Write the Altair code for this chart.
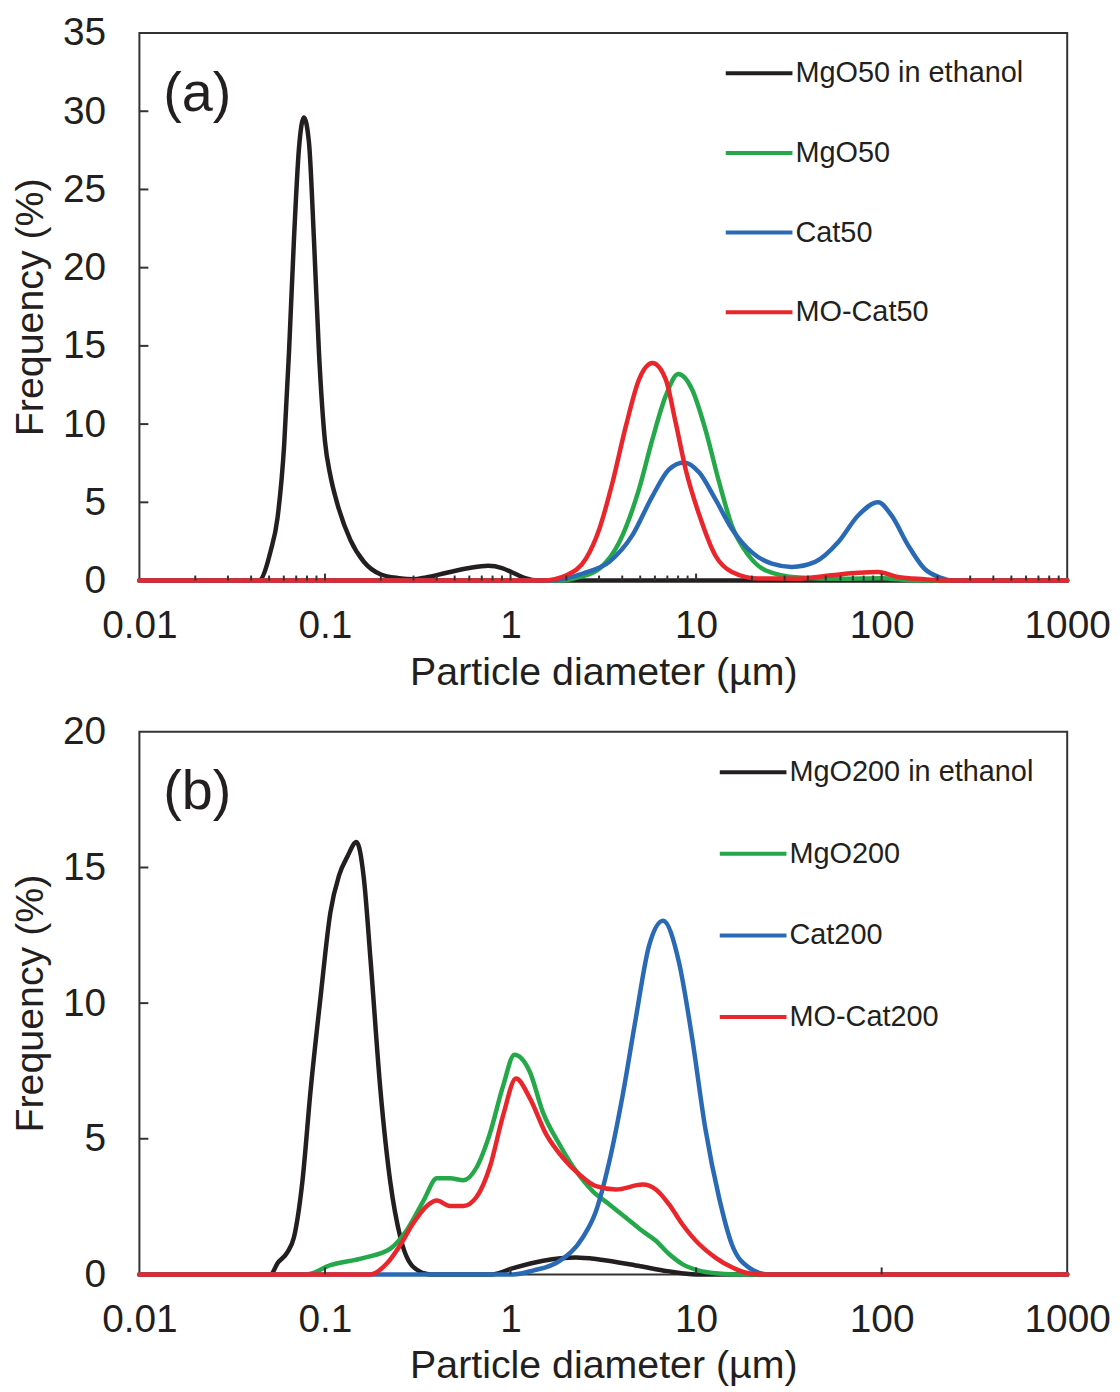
import altair as alt
import pandas as pd

FONT = "Liberation Sans"
TXT = "#231f20"

# ---------------- Panel (a) data ----------------
a_names = ["MgO50 in ethanol", "MgO50", "Cat50", "MO-Cat50"]
a_colors = ["#231f20", "#25a84a", "#2a6ab5", "#e8262b"]

a_black_x = [0.01, 0.044, 0.051, 0.0555, 0.0603, 0.064, 0.068, 0.0724, 0.077, 0.082, 0.0873,
             0.0928, 0.100, 0.107, 0.116, 0.137, 0.162, 0.199, 0.25, 0.30, 0.35, 0.453, 0.6,
             0.757, 0.9, 1.03, 1.2, 1.4, 1000]
a_black_y = [0, 0, 1.9, 4.0, 8.7, 14.6, 21.7, 27.6, 29.6, 28.0, 21.7,
             14.6, 8.9, 6.7, 5.0, 2.6, 1.2, 0.4, 0.15, 0.08, 0.2, 0.5, 0.8,
             0.94, 0.8, 0.5, 0.15, 0, 0]

a_green_x = [0.01, 1.9, 2.3, 3.01, 3.86, 4.93, 5.82, 6.86, 8.02, 9.53, 11.2, 13.3, 15.6,
             19.2, 23.6, 35.6, 60, 100, 150, 1000]
a_green_y = [0, 0, 0.2, 0.76, 2.46, 5.86, 9.04, 11.8, 13.2, 12.2, 9.7, 6.3, 3.5,
             1.6, 0.66, 0.2, 0.12, 0.15, 0, 0]

a_blue_x = [0.01, 1.62, 2.45, 3.41, 4.54, 5.82, 7.15, 8.6, 10.4, 12.7, 15.6, 20, 25.6,
            32.8, 43.8, 58.4, 74.7, 95.7, 113, 139, 170, 209, 240, 1000]
a_blue_y = [0, 0, 0.45, 1.2, 2.9, 5.4, 7.1, 7.55, 6.9, 5.2, 3.3, 1.8, 1.08,
            0.87, 1.19, 2.46, 4.16, 5.0, 4.16, 2.25, 0.76, 0.17, 0, 0]

a_red_x = [0.01, 1.5, 2.0, 2.55, 3.01, 3.55, 4.19, 4.93, 5.82, 6.86, 7.76, 8.79, 10.4,
           12.7, 15.6, 21.7, 35, 53.7, 75, 95.7, 122, 170, 220, 1000]
a_red_y = [0, 0, 0.34, 1.4, 3.3, 6.3, 9.9, 12.86, 13.9, 12.86, 10.1, 7.1, 4.2,
           1.6, 0.55, 0.13, 0.12, 0.34, 0.5, 0.55, 0.23, 0.08, 0, 0]

# ---------------- Panel (b) data ----------------
b_names = ["MgO200 in ethanol", "MgO200", "Cat200", "MO-Cat200"]
b_colors = ["#231f20", "#25a84a", "#2a6ab5", "#e8262b"]

b_black_x = [0.01, 0.051, 0.0555, 0.0628, 0.068, 0.0755, 0.0837, 0.0946, 0.107, 0.119,
             0.132, 0.148, 0.162, 0.176, 0.199, 0.225, 0.255, 0.30, 0.37, 0.8, 1.0, 1.5,
             2.25, 3.0, 5.0, 7.0, 10, 1000]
b_black_y = [0, 0, 0.41, 0.82, 1.36, 3.4, 6.8, 10.2, 13.35, 14.7,
             15.4, 15.94, 14.6, 11.6, 6.8, 3.4, 1.36, 0.27, 0, 0, 0.2, 0.5,
             0.62, 0.55, 0.3, 0.12, 0, 0]

b_green_x = [0.01, 0.08, 0.107, 0.162, 0.225, 0.276, 0.34, 0.401, 0.472, 0.557, 0.657,
             0.773, 0.912, 1.05, 1.27, 1.49, 1.84, 2.26, 2.77, 3.41, 4.19, 5.14, 6.07,
             7.15, 8.43, 10.4, 12.7, 16, 1000]
b_green_y = [0, 0, 0.34, 0.61, 0.95, 1.63, 2.72, 3.54, 3.54, 3.47, 3.95,
             5.18, 6.95, 8.1, 7.47, 6.0, 4.78, 3.8, 3.07, 2.58, 2.09, 1.6, 1.24,
             0.75, 0.38, 0.14, 0.04, 0, 0]

b_blue_x = [0.01, 1.03, 1.32, 1.84, 2.45, 2.89, 3.41, 4.02, 4.73, 5.58, 6.64, 8.09, 9.53,
            11.2, 13.3, 15.6, 19.2, 24.6, 1000]
b_blue_y = [0, 0, 0.14, 0.5, 1.36, 2.34, 4.17, 6.6, 9.43, 12.12, 13.04, 11.5, 8.7,
            5.4, 2.83, 1.1, 0.26, 0, 0]

b_red_x = [0.01, 0.176, 0.216, 0.255, 0.30, 0.354, 0.401, 0.472, 0.557, 0.657, 0.773,
           0.912, 1.07, 1.27, 1.56, 1.92, 2.35, 2.89, 3.70, 5.14, 6.07, 7.15, 8.43,
           10.4, 12.7, 15.6, 19.2, 22, 1000]
b_red_y = [0, 0, 0.41, 1.09, 1.9, 2.52, 2.72, 2.52, 2.52, 2.86, 3.95,
           5.86, 7.22, 6.5, 5.15, 4.29, 3.68, 3.25, 3.13, 3.31, 3.13, 2.58, 1.85,
           1.11, 0.62, 0.26, 0.04, 0, 0]

x_tick_values = [0.01, 0.1, 1, 10, 100, 1000]
x_major_inner = [0.1, 1, 10, 100]
x_minor_inner = [m * 10 ** k for k in range(-2, 3) for m in range(2, 10)]
a_y_ticks = [0, 5, 10, 15, 20, 25, 30, 35]
b_y_ticks = [0, 5, 10, 15, 20]


def panel(names, colors, xs, ys, y_ticks, height, label, minor, legend_x, row_pad,
          label_expr=None):
    width = 932
    xscale = alt.Scale(type="log", domain=[0.01, 1000], nice=False)
    yscale = alt.Scale(domain=[y_ticks[0], y_ticks[-1]], nice=False, zero=True)
    xaxis = alt.Axis(values=x_tick_values, format="~g", title="Particle diameter (µm)",
                     labelFlush=False, labelOverlap=False, labelPadding=26,
                     titlePadding=8, ticks=False, domain=False, grid=False)
    yaxis = alt.Axis(values=y_ticks, title="Frequency (%)", labelPadding=34,
                     titlePadding=12, ticks=False, domain=False, grid=False)
    leg = dict(orient="none", legendX=legend_x, legendY=5, title=None,
               symbolType="stroke", symbolSize=4489, symbolStrokeWidth=4,
               labelFontSize=29, labelFont=FONT, labelColor=TXT,
               labelOffset=1, rowPadding=row_pad, padding=0, labelLimit=500)
    if label_expr:
        leg["labelExpr"] = label_expr
    color = alt.Color("series:N", scale=alt.Scale(domain=names, range=colors),
                      legend=alt.Legend(**leg))
    X = alt.X("x:Q", scale=xscale, axis=xaxis)
    Y = alt.Y("y:Q", scale=yscale, axis=yaxis)
    layers = []
    for name, xv, yv in zip(names, xs, ys):
        df = pd.DataFrame({"x": xv, "y": yv, "series": [name] * len(xv)})
        layers.append(
            alt.Chart(df).mark_line(strokeWidth=4.5, interpolate="monotone",
                                    strokeJoin="round", strokeCap="round").encode(
                x=X, y=Y, color=color)
        )
    yt = pd.DataFrame({"y": y_ticks[1:-1]})
    layers.append(
        alt.Chart(yt).mark_rule(color="#333333", strokeWidth=2).encode(
            y=Y, x=alt.value(0), x2=alt.value(9))
    )
    xt = pd.DataFrame({"x": x_major_inner})
    layers.append(
        alt.Chart(xt).mark_rule(color="#333333", strokeWidth=2).encode(
            x=X, y=alt.value(height), y2=alt.value(height - 7))
    )
    if minor:
        xm = pd.DataFrame({"x": x_minor_inner})
        layers.append(
            alt.Chart(xm).mark_rule(color="#333333", strokeWidth=2).encode(
                x=X, y=alt.value(height), y2=alt.value(height - 5))
        )
    lab = pd.DataFrame({"t": [label]})
    layers.append(
        alt.Chart(lab).mark_text(align="left", baseline="middle", fontSize=56,
                                 font=FONT, color=TXT).encode(
            text="t:N", x=alt.value(24), y=alt.value(61))
    )
    return alt.layer(*layers).properties(width=width, height=height)


pa = panel(a_names, a_colors, [a_black_x, a_green_x, a_blue_x, a_red_x],
           [a_black_y, a_green_y, a_blue_y, a_red_y], a_y_ticks, 550, "(a)", True, 587, 29)
pb = panel(b_names, b_colors, [b_black_x, b_green_x, b_blue_x, b_red_x],
           [b_black_y, b_green_y, b_blue_y, b_red_y], b_y_ticks, 545, "(b)", False, 581, 31,
           label_expr="(datum.label == 'Cat200' || datum.label == 'MO-Cat200') ? '\u00a0\u00a0' + datum.label : datum.label")

chart = alt.vconcat(pa, pb, spacing=19).resolve_scale(
    color="independent", x="independent", y="independent"
).resolve_legend(color="independent").configure(
    padding={"left": 1, "top": 2, "right": 0, "bottom": 0},
    background="white",
).configure_view(
    stroke="#333333", strokeWidth=2
).configure_axis(
    labelFont=FONT, titleFont=FONT, labelFontSize=39, titleFontSize=39.5,
    labelColor=TXT, titleColor=TXT, titleFontWeight="normal",
)

chart.save("out.html", embed_options={"renderer": "svg", "actions": False})
